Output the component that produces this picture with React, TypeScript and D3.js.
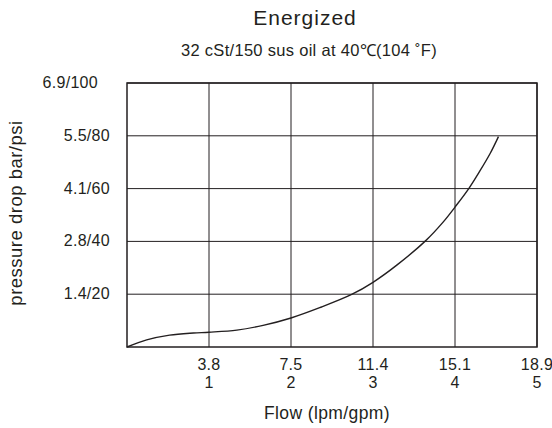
import { useRef, useEffect } from "react";
import * as d3 from "d3";

// flow in gpm, pressure drop in psi
const flowGpm = [0, 0.24, 0.52, 0.81, 1.0, 1.34, 1.66, 2.0, 2.35, 2.74, 3.0, 3.29, 3.64, 3.86, 4.0, 4.17, 4.3, 4.43, 4.53];
const dropPsi = [0, 2.7, 4.5, 5.3, 5.6, 6.4, 8.2, 11.0, 14.9, 19.9, 24.5, 31, 40.2, 47.5, 53, 60.1, 66.5, 73.4, 79.7];

const xTicksLpm = ["3.8", "7.5", "11.4", "15.1", "18.9"];
const xTicksGpm = [1, 2, 3, 4, 5];
const yTicksLabel = ["1.4/20", "2.8/40", "4.1/60", "5.5/80", "6.9/100"];
const yTicksPsi = [20, 40, 60, 80, 100];

const W = 552;
const H = 428;
const M = { top: 83, right: 15, bottom: 81, left: 127 };
const INK = "#231f20";
const FONT = "'Liberation Sans', Arial, sans-serif";

function draw(ref: SVGSVGElement | null) {
  const svg = d3.select(ref);
  svg.selectAll("*").remove();

  const x = d3.scaleLinear().domain([0, 5]).range([M.left, W - M.right]);
  const y = d3.scaleLinear().domain([0, 100]).range([H - M.bottom, M.top]);

  const g = svg.append("g");

  // grid
  g.selectAll(".vx")
    .data(xTicksGpm)
    .join("line")
    .attr("x1", (d) => x(d))
    .attr("x2", (d) => x(d))
    .attr("y1", y(0))
    .attr("y2", y(100))
    .attr("stroke", INK)
    .attr("stroke-width", 1);
  g.selectAll(".hy")
    .data(yTicksPsi)
    .join("line")
    .attr("x1", x(0))
    .attr("x2", x(5))
    .attr("y1", (d) => y(d))
    .attr("y2", (d) => y(d))
    .attr("stroke", INK)
    .attr("stroke-width", 1);
  g.append("rect")
    .attr("x", x(0))
    .attr("y", y(100))
    .attr("width", x(5) - x(0))
    .attr("height", y(0) - y(100))
    .attr("fill", "none")
    .attr("stroke", INK)
    .attr("stroke-width", 1.5);

  // curve
  const pts = flowGpm.map((f, i) => [f, dropPsi[i]] as [number, number]);
  g.append("path")
    .datum(pts)
    .attr("fill", "none")
    .attr("stroke", INK)
    .attr("stroke-width", 1.4)
    .attr(
      "d",
      d3
        .line<[number, number]>()
        .x((d) => x(d[0]))
        .y((d) => y(d[1]))
        .curve(d3.curveCatmullRom.alpha(0.5))
    );

  const txt = svg
    .append("g")
    .attr("font-family", FONT)
    .attr("fill", INK);

  // y tick labels (top one sits further left in the original)
  txt.selectAll(".yl")
    .data(yTicksPsi)
    .join("text")
    .attr("x", (d) => (d === 100 ? x(0) - 29 : x(0) - 17))
    .attr("y", (d) => y(d) + 5)
    .attr("text-anchor", "end")
    .attr("font-size", 16)
    .attr("letter-spacing", 0.3)
    .text((d, i) => yTicksLabel[i]);

  // x tick labels
  txt.selectAll(".xl1")
    .data(xTicksGpm)
    .join("text")
    .attr("x", (d) => x(d))
    .attr("y", H - M.bottom + 23)
    .attr("text-anchor", "middle")
    .attr("font-size", 16)
    .attr("letter-spacing", 0.3)
    .text((d, i) => xTicksLpm[i]);
  txt.selectAll(".xl2")
    .data(xTicksGpm)
    .join("text")
    .attr("x", (d) => x(d))
    .attr("y", H - M.bottom + 41)
    .attr("text-anchor", "middle")
    .attr("font-size", 16)
    .text((d) => String(d));

  // axis titles
  txt.append("text")
    .attr("x", 327)
    .attr("y", 419)
    .attr("text-anchor", "middle")
    .attr("font-size", 17.5)
    .attr("letter-spacing", 0.4)
    .text("Flow (lpm/gpm)");
  txt.append("text")
    .attr("transform", `translate(22, 213) rotate(-90)`)
    .attr("text-anchor", "middle")
    .attr("font-size", 18.5)
    .attr("letter-spacing", 0.5)
    .text("pressure drop bar/psi");

  // titles
  txt.append("text")
    .attr("x", 305)
    .attr("y", 25)
    .attr("text-anchor", "middle")
    .attr("font-size", 21)
    .attr("letter-spacing", 1)
    .text("Energized");
  txt.append("text")
    .attr("x", 309)
    .attr("y", 56)
    .attr("text-anchor", "middle")
    .attr("font-size", 16.5)
    .attr("letter-spacing", 0.3)
    .text("32 cSt/150 sus oil at 40℃(104 ˚F)");
}

export default function App() {
  const ref = useRef<SVGSVGElement>(null);
  useEffect(() => {
    draw(ref.current);
  }, []);
  return (
    <svg
      ref={ref}
      width={W}
      height={H}
      style={{ position: "absolute", left: 0, top: 0, background: "#fff" }}
    />
  );
}
